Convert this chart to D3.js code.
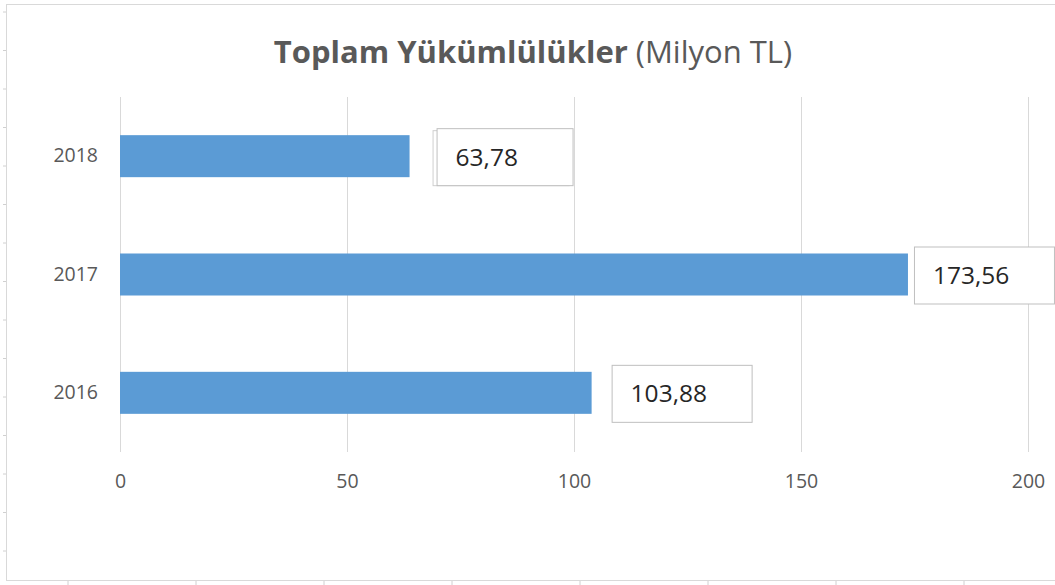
<!DOCTYPE html>
<html>
<head>
<meta charset="utf-8">
<script src="https://cdn.jsdelivr.net/npm/d3@7"></script>
<style>
  body { margin: 0; background: #fff; }
  text { font-family: "Open Sans", "Liberation Sans", sans-serif; }
</style>
</head>
<body>
<svg id="chart"></svg>
<script>
const years = ["2018", "2017", "2016"];
const values = [63.78, 173.56, 103.88];
const valueLabels = ["63,78", "173,56", "103,88"];
const xTicks = [0, 50, 100, 150, 200];

const width = 1055, height = 585;
const plot = { left: 120, right: 1028, top: 97, bottom: 452 };

const svg = d3.select("#chart")
    .attr("width", width)
    .attr("height", height);

// frame of the chart object
svg.append("rect")
    .attr("x", 6.5).attr("y", 4.5)
    .attr("width", 1060).attr("height", 576)
    .attr("fill", "#fff")
    .attr("stroke", "#d9d9d9");

// spreadsheet cell marks around the frame
svg.selectAll(".rowmark")
    .data(d3.range(12, 585, 38.5))
    .join("line")
        .attr("x1", 3).attr("x2", 6)
        .attr("y1", d => d).attr("y2", d => d)
        .attr("stroke", "#d0d0d0");
svg.selectAll(".colmark")
    .data(d3.range(68, 1055, 128))
    .join("line")
        .attr("x1", d => d).attr("x2", d => d)
        .attr("y1", 581).attr("y2", 585)
        .attr("stroke", "#d0d0d0");

const x = d3.scaleLinear()
    .domain([0, 200])
    .range([plot.left, plot.right]);

const y = d3.scaleBand()
    .domain(years)
    .range([plot.top, plot.bottom])
    .paddingInner(0.645)
    .paddingOuter(0.3225);

// vertical gridlines + bottom labels
const xAxis = svg.append("g")
    .attr("transform", "translate(0," + plot.bottom + ")")
    .call(d3.axisBottom(x)
        .tickValues(xTicks)
        .tickSize(-(plot.bottom - plot.top))
        .tickPadding(22)
        .tickFormat(d3.format("d")));
xAxis.select(".domain").remove();
xAxis.selectAll(".tick line").attr("stroke", "#d9d9d9");
xAxis.selectAll(".tick text")
    .attr("fill", "#595959")
    .attr("font-size", 19.5);

// category labels
const yAxis = svg.append("g")
    .attr("transform", "translate(" + plot.left + ",0)")
    .call(d3.axisLeft(y).tickSize(0).tickPadding(22));
yAxis.select(".domain").remove();
yAxis.selectAll(".tick text")
    .attr("fill", "#595959")
    .attr("font-size", 19.5);

// value callouts
const labelGap = [27, 6, 20];
const boxW = 140, boxH = 57;

// bars
svg.selectAll(".bar")
    .data(years)
    .join("rect")
        .attr("class", "bar")
        .attr("x", x(0))
        .attr("y", d => y(d))
        .attr("width", (d, i) => x(values[i]) - x(0))
        .attr("height", y.bandwidth())
        .attr("fill", "#5b9bd5");

const labels = svg.selectAll(".lbl")
    .data(years)
    .join("g")
        .attr("class", "lbl")
        .attr("transform", (d, i) => "translate(" +
            (x(values[i]) + labelGap[i]) + "," +
            (y(d) + y.bandwidth() / 2 - boxH / 2 + 0.5) + ")");
labels.filter((d, i) => i === 0)
    .append("rect")
        .attr("x", -3.5).attr("y", 2.5)
        .attr("width", boxW - 4).attr("height", boxH - 2)
        .attr("fill", "#fff")
        .attr("stroke", "#cfcfcf");
labels.append("rect")
    .attr("x", 0.5).attr("y", 0.5)
    .attr("width", (d, i) => i === 0 ? boxW - 4 : boxW)
    .attr("height", boxH)
    .attr("fill", "#fff")
    .attr("stroke", "#bfbfbf");
labels.append("text")
    .attr("x", 19)
    .attr("y", boxH / 2 + 9)
    .attr("fill", "#262626")
    .attr("font-size", 24.5)
    .text((d, i) => valueLabels[i]);

// title
const title = svg.append("text")
    .attr("x", 533)
    .attr("y", 63)
    .attr("text-anchor", "middle")
    .attr("fill", "#595959")
    .attr("font-size", 31);
title.append("tspan").attr("font-weight", "bold").text("Toplam Yükümlülükler");
title.append("tspan").text(" (Milyon TL)");
</script>
</body>
</html>
